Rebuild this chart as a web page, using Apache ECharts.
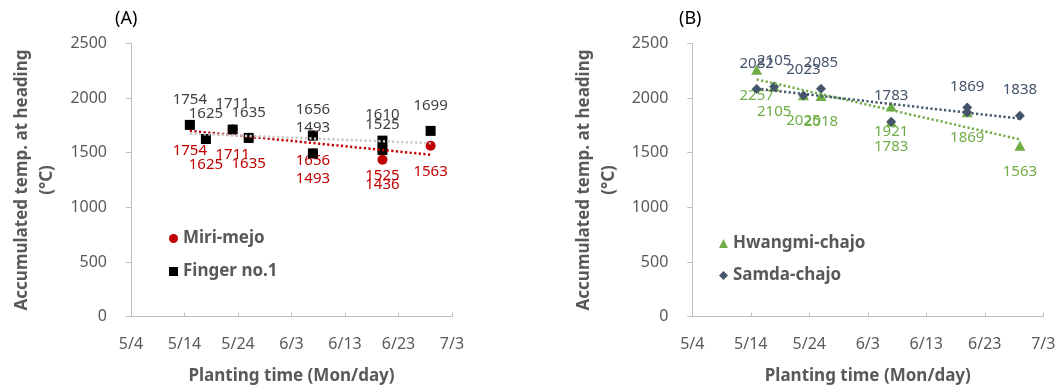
<!DOCTYPE html>
<html>
<head>
<meta charset="utf-8">
<script src="https://cdn.jsdelivr.net/npm/echarts@6/dist/echarts.min.js"></script>
<style>html,body{margin:0;padding:0;background:#fff}#c{width:1059px;height:392px}</style>
</head>
<body>
<div id="c"></div>
<script>
// ---- data ----
const xTickLabels = ['5/4','5/14','5/24','6/3','6/13','6/23','7/3'];
const datesA = ['5/15','5/18','5/23','5/26','6/7','6/7','6/20','6/20','6/29'];
const miriMejo = [1754,1625,1711,1635,1656,1493,1525,1436,1563];
const fingerNo1 = [1754,1625,1711,1635,1656,1493,1610,1525,1699];
const datesHwangmi = ['5/15','5/18','5/23','5/26','6/7','6/7','6/20','6/29'];
const hwangmiChajo = [2257,2105,2025,2018,1921,1783,1869,1563];
const datesSamda = ['5/15','5/18','5/23','5/26','6/7','6/20','6/20','6/29'];
const samdaChajo = [2082,2105,2023,2085,1783,1912,1869,1838];
const samdaLabelShown = [1,1,1,1,1,0,1,1];

// ---- helpers ----
const FONT = '"Noto Sans", "Open Sans", sans-serif';
const base = new Date(2021, 4, 4);
function dayOf(s){ const [m,d] = s.split('/').map(Number); return Math.round((new Date(2021, m-1, d) - base)/86400000); }
function fmtDay(v){ const i = Math.round(v/10); return xTickLabels[i] !== undefined ? xTickLabels[i] : ''; }
function pts(dates, vals){ return dates.map((d,i)=>[dayOf(d), vals[i]]); }
function trend(dates, vals){
  const xs = dates.map(dayOf), n = xs.length;
  const mx = xs.reduce((a,b)=>a+b,0)/n, my = vals.reduce((a,b)=>a+b,0)/n;
  let sxy=0, sxx=0;
  xs.forEach((x,i)=>{ sxy += (x-mx)*(vals[i]-my); sxx += (x-mx)*(x-mx); });
  const b = sxy/sxx, a = my - b*mx;
  const x0 = Math.min(...xs), x1 = Math.max(...xs);
  return [[x0, a+b*x0],[x1, a+b*x1]];
}
const axisGray = '#BFBFBF', textGray = '#595959';
function xAxis(gi){
  return {type:'value', gridIndex:gi, min:0, max:60, interval:10,
    axisLine:{show:true, lineStyle:{color:axisGray, width:1}},
    axisTick:{show:true, inside:true, length:4, lineStyle:{color:axisGray}},
    splitLine:{show:false},
    axisLabel:{formatter:v=>fmtDay(v), color:textGray, fontSize:16, fontFamily:FONT, margin:20},
    name:'Planting time (Mon/day)', nameLocation:'middle', nameGap:51,
    nameTextStyle:{color:textGray, fontSize:17, fontWeight:'bold', fontFamily:FONT}};
}
function yAxis(gi){
  return {type:'value', gridIndex:gi, min:0, max:2500, interval:500,
    axisLine:{show:true, lineStyle:{color:axisGray, width:1}},
    axisTick:{show:true, length:5, lineStyle:{color:axisGray}},
    splitLine:{show:false},
    axisLabel:{formatter:v=>String(v), color:textGray, fontSize:16, fontFamily:FONT, margin:24},
    name:'Accumulated temp. at heading\n(°C)', nameLocation:'middle', nameGap:71,
    nameTextStyle:{color:textGray, fontSize:17, fontWeight:'bold', fontFamily:FONT, lineHeight:25, align:'center'}};
}
function lbl(pos, color){
  return {show:true, position:pos, distance:13, color:color, fontSize:15, fontFamily:FONT};
}
function trendSeries(gi, data, color){
  return {type:'line', xAxisIndex:gi, yAxisIndex:gi, data:data, symbol:'none', silent:true,
    lineStyle:{color:color, width:2.5, type:[2.2,2.4], cap:'butt'}, z:5};
}

const option = {
  animation:false,
  backgroundColor:'#fff',
  title:[
    {text:'(A)', left:115, top:10, padding:0, textStyle:{fontSize:18, fontWeight:'normal', color:'#000', fontFamily:FONT}},
    {text:'(B)', left:679, top:10, padding:0, textStyle:{fontSize:18, fontWeight:'normal', color:'#000', fontFamily:FONT}}
  ],
  grid:[
    {left:131, right:607, top:43.3, bottom:75.3},
    {left:692.3, right:15.7, top:43.3, bottom:75.3}
  ],
  xAxis:[xAxis(0), xAxis(1)],
  yAxis:[yAxis(0), yAxis(1)],
  legend:[
    {left:169, top:230, orient:'vertical', padding:0, itemGap:16, itemWidth:9, itemHeight:9,
     data:['Miri-mejo','Finger no.1'],
     textStyle:{color:textGray, fontSize:17, fontWeight:'bold', fontFamily:FONT}},
    {left:719, top:235, orient:'vertical', padding:0, itemGap:15, itemWidth:9, itemHeight:9,
     data:['Hwangmi-chajo','Samda-chajo'],
     textStyle:{color:textGray, fontSize:17, fontWeight:'bold', fontFamily:FONT}}
  ],
  series:[
    {name:'Miri-mejo', type:'scatter', xAxisIndex:0, yAxisIndex:0, symbol:'circle', symbolSize:10,
     itemStyle:{color:'#C00000', opacity:1}, data:pts(datesA, miriMejo), label:lbl('bottom','#C00000'), z:2},
    {name:'Finger no.1', type:'scatter', xAxisIndex:0, yAxisIndex:0, symbol:'rect', symbolSize:10,
     itemStyle:{color:'#000000', opacity:1}, data:pts(datesA, fingerNo1), label:lbl('top','#404040'), z:3},
    trendSeries(0, trend(datesA, miriMejo), '#C00000'),
    trendSeries(0, trend(datesA, fingerNo1), '#C8C8C8'),
    {name:'Hwangmi-chajo', type:'scatter', xAxisIndex:1, yAxisIndex:1, symbol:'triangle', symbolSize:[11,10],
     itemStyle:{color:'#70AD47', opacity:1}, data:pts(datesHwangmi, hwangmiChajo), label:lbl('bottom','#70AD47'), z:2},
    {name:'Samda-chajo', type:'scatter', xAxisIndex:1, yAxisIndex:1, symbol:'diamond', symbolSize:[10,10],
     itemStyle:{color:'#44546A', opacity:1},
     data:pts(datesSamda, samdaChajo).map((p,i)=>({value:p, label:{show:!!samdaLabelShown[i]}})),
     label:lbl('top','#44546A'), z:3},
    trendSeries(1, trend(datesHwangmi, hwangmiChajo), '#70AD47'),
    trendSeries(1, trend(datesSamda, samdaChajo), '#44546A')
  ]
};
const chart = echarts.init(document.getElementById('c'), null, {renderer:'canvas'});
chart.setOption(option);
</script>
</body>
</html>
